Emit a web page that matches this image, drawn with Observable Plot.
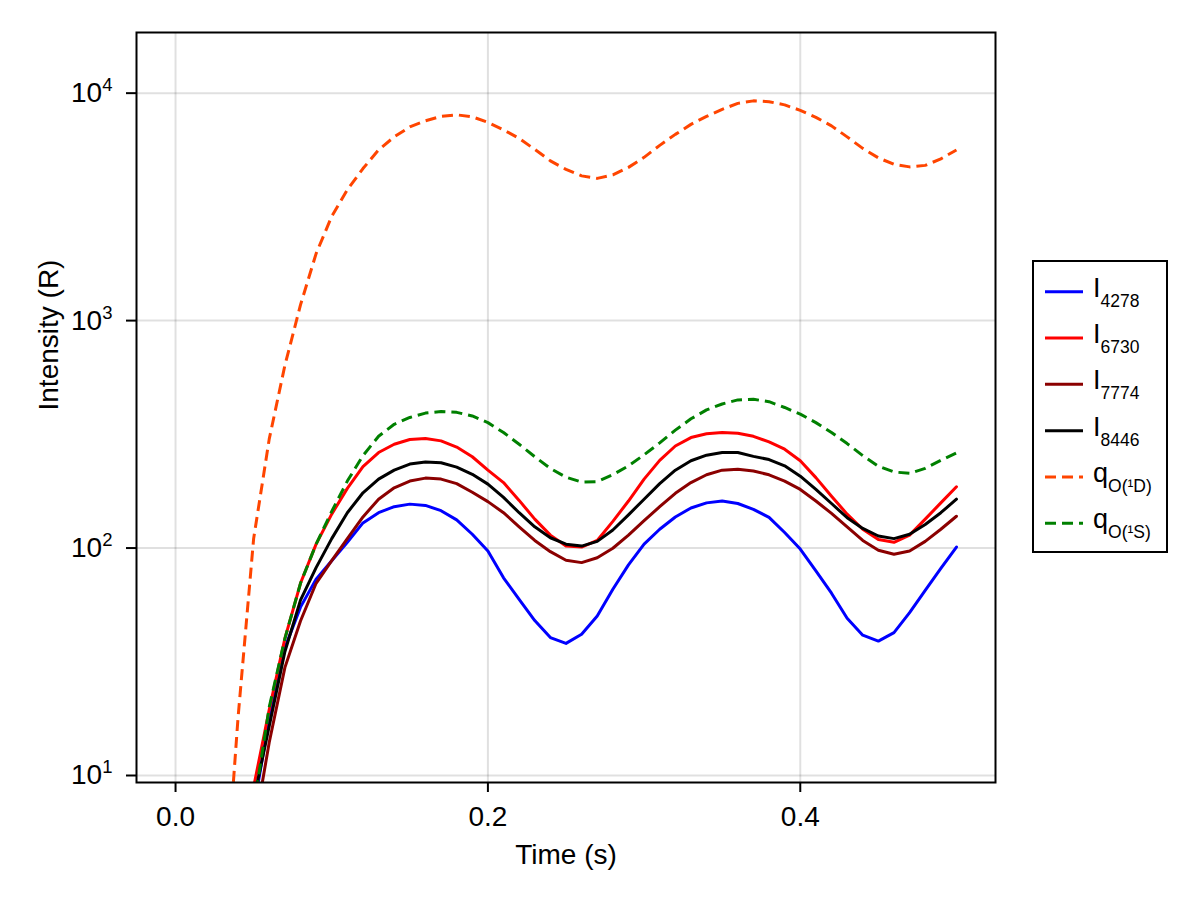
<!DOCTYPE html>
<html>
<head>
<meta charset="utf-8">
<script src="https://cdn.jsdelivr.net/npm/d3@7"></script>
<script src="https://cdn.jsdelivr.net/npm/@observablehq/plot@0.6"></script>
<style>
  html, body { margin: 0; padding: 0; background: #fff; }
  #wrap { position: relative; width: 1200px; height: 900px; font-family: "Liberation Sans", Arial, sans-serif; }
  #plot { position: absolute; left: 0; top: 0; }
  #legend { position: absolute; left: 1032px; top: 260px; }
</style>
</head>
<body>
<div id="wrap">
  <div id="plot"></div>
  <svg id="legend" width="136" height="293"></svg>
</div>
<script>
// ---- data ----
const time = [0.03,0.04,0.05,0.06,0.07,0.08,0.09,0.10,0.11,0.12,0.13,0.14,0.15,0.16,0.17,0.18,0.19,0.20,0.21,0.22,0.23,0.24,0.25,0.26,0.27,0.28,0.29,0.30,0.31,0.32,0.33,0.34,0.35,0.36,0.37,0.38,0.39,0.40,0.41,0.42,0.43,0.44,0.45,0.46,0.47,0.48,0.49,0.50];

const I4278 = [null,null,7.1,17.8,36.4,55,73,88,106,129,143,152,156,154,146,133,115,97,74,59.5,48,40.4,38.1,41.8,50.3,65.9,84.3,104,121,137,150,158,161,157,148,136.5,117,99,79.3,63.3,49.1,41.4,39,42.5,52,65.2,81.5,101];
const I6730 = [null,null,8.9,19.5,40,70,104,141,183,228,263,286,300,303,296,278,252,220,194,162,134,114,102,101,108,131,161,201,243,281,306,318,322,320,310,293,272,242,204,169,141,121,109,106,114,134,158,186];
const I7774 = [null,null,5.6,14,29.8,47.8,70,88,110,137,164,184,197,203,201,192,176,160,143,124,108,96.4,88.4,86.3,90.7,99.8,114,132,152,174,194,210,220,222,218,210,197,181,161,142,124,108,97.8,93.9,97,107,121,138];
const I8446 = [null,null,7.8,16.5,35,59,82,110,143,175,201,220,234,239,237,227,211,191,167,143,124,111,104,102,107,120,140,164,192,220,242,256,263,263,253,245,230,207,181,157,136,122,113,110,115,127,143,164];
const qO1D  = [2,17.9,110,302,635,1172,1971,2873,3760,4660,5630,6425,7108,7555,7907,8029,7868,7438,6896,6328,5659,5039,4622,4328,4220,4372,4717,5222,5894,6588,7291,7907,8488,9019,9250,9175,8883,8401,7826,7181,6425,5718,5195,4863,4741,4814,5142,5628];
const qO1S  = [null,null,7.2,20,40,70,104,145,197,255,310,350,375,392,398,395,381,356,322,286,252,224,205,195,196,210,230,257,290,330,370,405,430,448,451,440,415,388,356,322,288,255,229,216,213,224,243,262];

const seriesBase   = ["I","I","I","I","q","q"];
const seriesSub    = ["4278","6730","7774","8446","O(\u00B9D)","O(\u00B9S)"];
const seriesColors = ["#0000ff","#ff0000","#8b0000","#000000","#ff4500","#008000"];
const seriesDashed = [false,false,false,false,true,true];

const xTicks = [0.0, 0.2, 0.4];
const yTicks = [10, 100, 1000, 10000];
const xLabel = "Time (s)";
const yLabel = "Intensity (R)";

// ---- build table ----
const allValues = [I4278, I6730, I7774, I8446, qO1D, qO1S];
const rows = allValues.flatMap((vals, k) =>
  vals.map((v, i) => ({t: time[i], v, s: k})).filter(d => d.v != null));

const FONT = "Liberation Sans, Arial, sans-serif";
const DASH = "11,6";

const lineMarks = allValues.map((vals, k) =>
  Plot.line(rows.filter(d => d.s === k), {
    x: "t", y: "v",
    stroke: seriesColors[k],
    strokeWidth: 3,
    strokeDasharray: seriesDashed[k] ? DASH : undefined,
    strokeLinecap: seriesDashed[k] ? "butt" : "round",
    strokeLinejoin: "round",
    clip: true
  }));

const chart = Plot.plot({
  width: 1200,
  height: 900,
  marginLeft: 136,
  marginRight: 205,
  marginTop: 32,
  marginBottom: 118,
  style: {fontFamily: FONT, fontSize: "28px", color: "#000", background: "#fff"},
  x: {domain: [-0.025, 0.525]},
  y: {type: "log", domain: [9.316, 18480]},
  marks: [
    Plot.gridX(xTicks, {stroke: "#000", strokeOpacity: 0.12, strokeWidth: 2}),
    Plot.gridY(yTicks, {stroke: "#000", strokeOpacity: 0.12, strokeWidth: 2}),
    ...lineMarks,
    Plot.frame({stroke: "#000", strokeWidth: 2}),
    Plot.axisX({ticks: xTicks, tickFormat: d3.format(".1f"), tickSize: 10, tickPadding: 14, label: null, strokeWidth: 2}),
    Plot.axisY({ticks: yTicks, tickFormat: d => String(Math.round(Math.log10(d))), tickSize: 10, tickPadding: 14, label: null, strokeWidth: 2}),
    Plot.text([xLabel], {text: d => d, frameAnchor: "bottom", lineAnchor: "bottom", dy: 81, fontSize: 28, fill: "#000"}),
    Plot.text([yLabel], {text: d => d, frameAnchor: "left", lineAnchor: "bottom", rotate: -90, dx: -79, dy: 3, fontSize: 28, fill: "#000"})
  ]
});

// y tick labels as 10 with superscript exponent
const NS = "http://www.w3.org/2000/svg";
chart.querySelectorAll('[aria-label="y-axis tick label"] text').forEach(t => {
  const e = t.textContent;
  t.textContent = "";
  const a = document.createElementNS(NS, "tspan");
  a.textContent = "10";
  const b = document.createElementNS(NS, "tspan");
  b.textContent = e;
  b.setAttribute("dy", "-11");
  b.setAttribute("font-size", "18.5");
  t.append(a, b);
});

document.getElementById("plot").appendChild(chart);

// ---- legend ----
const leg = d3.select("#legend");
leg.append("rect").attr("x", 1).attr("y", 1).attr("width", 134).attr("height", 291)
  .attr("fill", "#fff").attr("stroke", "#000").attr("stroke-width", 2);
seriesBase.forEach((base, k) => {
  const cy = 31.7 + 46.33 * k;
  leg.append("line").attr("x1", 13).attr("x2", 51).attr("y1", cy).attr("y2", cy)
    .attr("stroke", seriesColors[k]).attr("stroke-width", 3)
    .attr("stroke-dasharray", seriesDashed[k] ? DASH : null);
  const tx = leg.append("text").attr("x", 61).attr("y", cy + 5)
    .attr("font-family", FONT).attr("font-size", 27).attr("fill", "#000");
  tx.append("tspan").text(base);
  tx.append("tspan").attr("dy", 10).attr("font-size", 17.5).text(seriesSub[k]);
});
</script>
</body>
</html>
